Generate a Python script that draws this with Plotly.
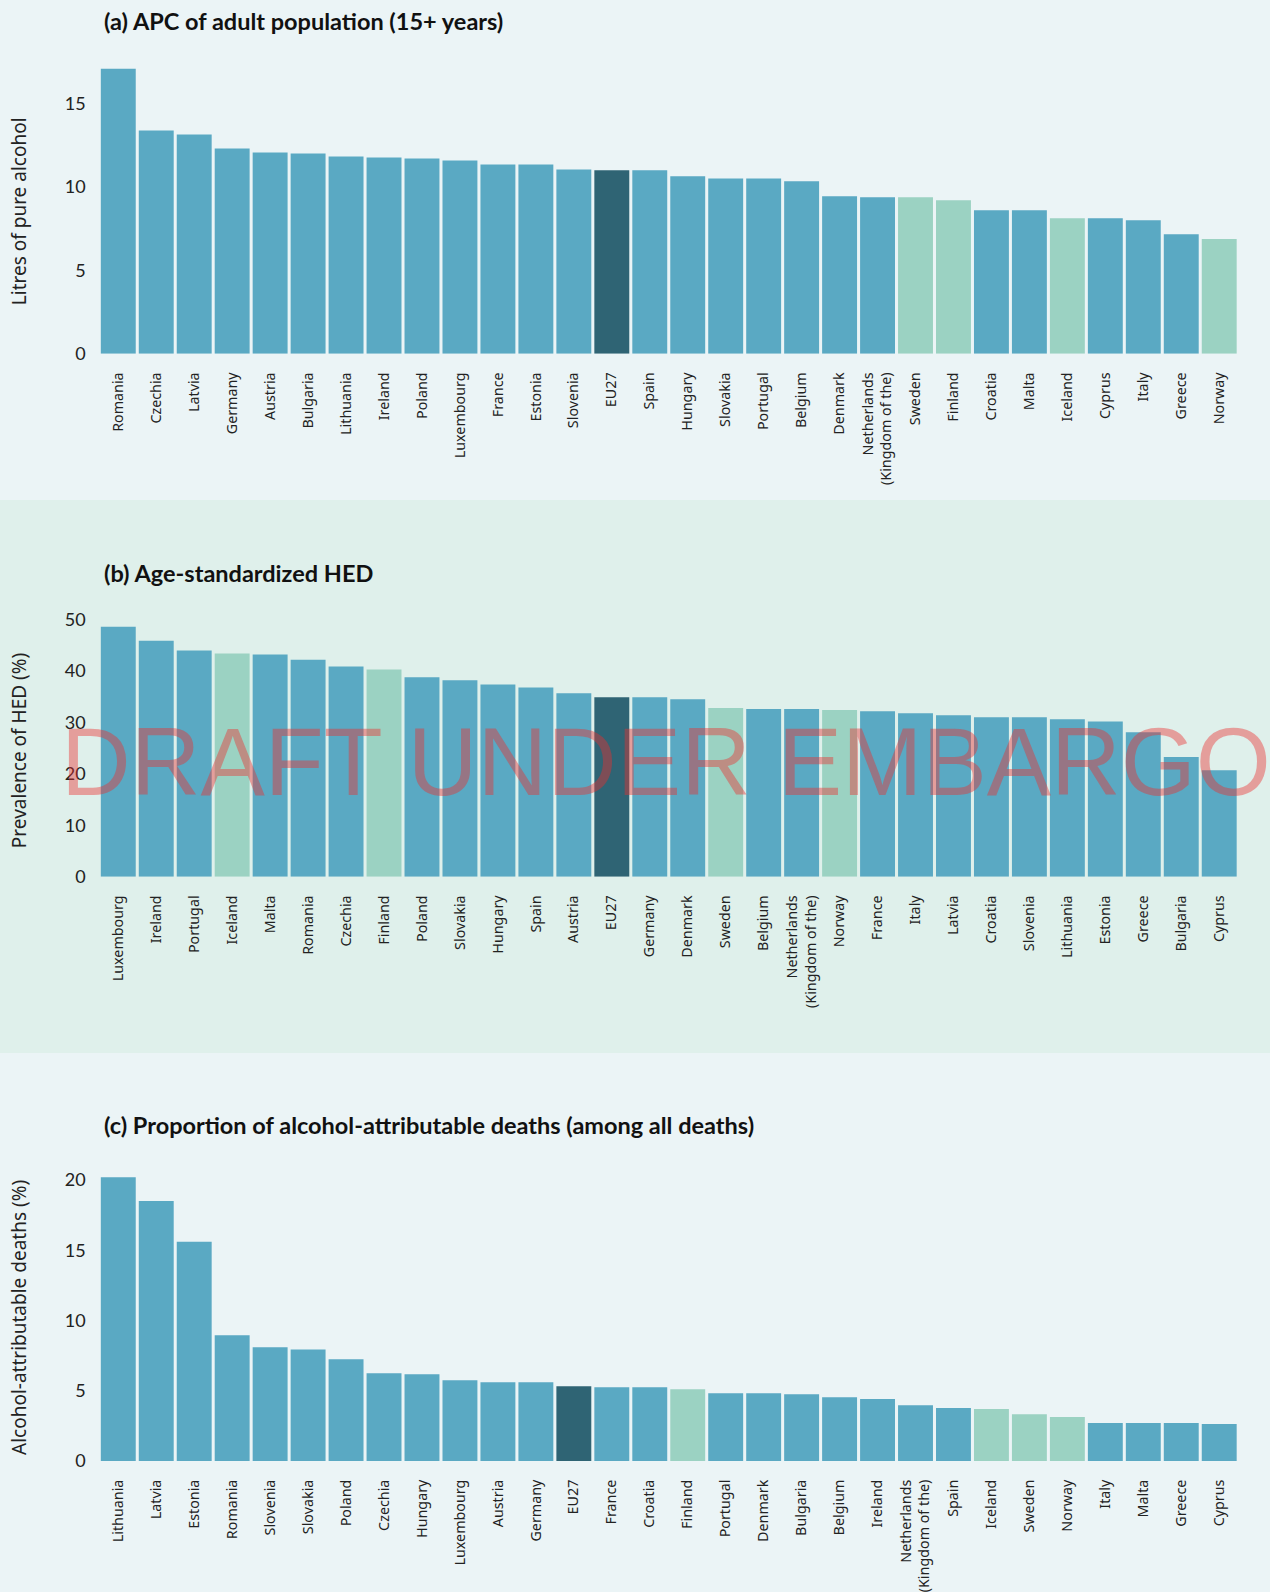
import plotly.graph_objects as go

# ---------------- data ----------------
cats_a = ["Romania", "Czechia", "Latvia", "Germany", "Austria", "Bulgaria", "Lithuania", "Ireland",
          "Poland", "Luxembourg", "France", "Estonia", "Slovenia", "EU27", "Spain", "Hungary",
          "Slovakia", "Portugal", "Belgium", "Denmark", "Netherlands (Kingdom of the)", "Sweden",
          "Finland", "Croatia", "Malta", "Iceland", "Cyprus", "Italy", "Greece", "Norway"]
vals_a = [17.07, 13.37, 13.13, 12.3, 12.06, 12.0, 11.82, 11.76, 11.7, 11.58, 11.34, 11.34, 11.04,
          10.99, 10.99, 10.63, 10.5, 10.5, 10.33, 9.43, 9.37, 9.37, 9.19, 8.6, 8.6, 8.12, 8.12,
          8.0, 7.16, 6.87]

cats_b = ["Luxembourg", "Ireland", "Portugal", "Iceland", "Malta", "Romania", "Czechia", "Finland",
          "Poland", "Slovakia", "Hungary", "Spain", "Austria", "EU27", "Germany", "Denmark",
          "Sweden", "Belgium", "Netherlands (Kingdom of the)", "Norway", "France", "Italy",
          "Latvia", "Croatia", "Slovenia", "Lithuania", "Estonia", "Greece", "Bulgaria", "Cyprus"]
vals_b = [48.6, 45.9, 44.0, 43.4, 43.2, 42.2, 40.9, 40.3, 38.8, 38.2, 37.4, 36.8, 35.7, 34.9,
          34.9, 34.5, 32.8, 32.6, 32.6, 32.4, 32.2, 31.8, 31.4, 31.0, 31.0, 30.6, 30.2, 28.1,
          23.3, 20.7]

cats_c = ["Lithuania", "Latvia", "Estonia", "Romania", "Slovenia", "Slovakia", "Poland", "Czechia",
          "Hungary", "Luxembourg", "Austria", "Germany", "EU27", "France", "Croatia", "Finland",
          "Portugal", "Denmark", "Bulgaria", "Belgium", "Ireland", "Netherlands (Kingdom of the)",
          "Spain", "Iceland", "Sweden", "Norway", "Italy", "Malta", "Greece", "Cyprus"]
vals_c = [20.2, 18.5, 15.6, 8.94, 8.09, 7.94, 7.23, 6.24, 6.17, 5.74, 5.6, 5.6, 5.32, 5.25,
          5.25, 5.1, 4.82, 4.82, 4.75, 4.54, 4.4, 3.97, 3.76, 3.69, 3.33, 3.12, 2.7, 2.7, 2.7, 2.62]

aggregate = ["EU27"]
nordic_group = ["Finland", "Iceland", "Norway", "Sweden"]

titles = ["(a) APC of adult population (15+ years)",
          "(b) Age-standardized HED",
          "(c) Proportion of alcohol-attributable deaths (among all deaths)"]
ytitles = ["Litres of pure alcohol", "Prevalence of HED (%)", "Alcohol-attributable deaths (%)"]
ytick_a = [0, 5, 10, 15]
ytick_b = [0, 10, 20, 30, 40, 50]
ytick_c = [0, 5, 10, 15, 20]

# ---------------- styling / layout ----------------
W, H = 1270, 1592
HS = 1577  # effective vertical scale used for paper positioning
C_MAIN = "#5AA9C3"
C_EU = "#2F6474"
C_NORD = "#9BD2C2"
BG_A = "#EBF4F6"
BG_B = "#DFF0EB"


def py(p):
    return 1 - p / HS


def colour(c):
    if c in aggregate:
        return C_EU
    if c in nordic_group:
        return C_NORD
    return C_MAIN


def label(c):
    return c.replace(" (Kingdom", "<br>(Kingdom")


X0, X1 = 99.3 / W, 1238.2 / W
# (zero pixel, range max, pixels per unit)
panels = [
    (cats_a, vals_a, ytick_a, 354, 18, 16.75),
    (cats_b, vals_b, ytick_b, 879, 52, 5.16),
    (cats_c, vals_c, ytick_c, 1465.5, 21, 14.1),
]
title_y = [20, 574.5, 1128.5]
ytitle_y = [211, 753, 1322]

fig = go.Figure()
layout = {}
for i, (cats, vals, yt, zero_px, rmax, ppu) in enumerate(panels):
    n = "" if i == 0 else str(i + 1)
    fig.add_trace(go.Bar(
        x=cats, y=vals,
        marker=dict(color=[colour(c) for c in cats], line=dict(width=0)),
        xaxis="x" + n, yaxis="y" + n, showlegend=False,
        hoverinfo="x+y",
    ))
    top_px = zero_px - rmax * ppu
    layout["xaxis" + n] = dict(
        domain=[X0, X1], anchor="y" + n, type="category",
        tickmode="array", tickvals=cats, ticktext=[label(c) for c in cats],
        tickangle=-90, showgrid=False, showline=False, zeroline=False,
        ticks="outside", ticklen=12, tickcolor="rgba(0,0,0,0)",
        tickfont=dict(family="Noto Sans", size=14.3, color="#222222"),
    )
    layout["yaxis" + n] = dict(
        domain=[py(zero_px), py(top_px)], anchor="x" + n, range=[0, rmax],
        tickmode="array", tickvals=yt, showgrid=False, showline=False, zeroline=False,
        ticks="outside", ticklen=9, tickcolor="rgba(0,0,0,0)",
        tickfont=dict(family="Lato", size=18, color="#222222"),
    )

annotations = []
for i in range(3):
    annotations.append(dict(
        text="<b>" + titles[i] + "</b>", xref="paper", yref="paper",
        x=102 / W, y=py(title_y[i]), xanchor="left", yanchor="middle",
        showarrow=False, font=dict(family="Lato", size=23.5, color="#111111"),
    ))
    annotations.append(dict(
        text=ytitles[i], xref="paper", yref="paper",
        x=19 / W, y=py(ytitle_y[i]), xanchor="center", yanchor="middle",
        textangle=-90, showarrow=False,
        font=dict(family="Noto Sans", size=19, color="#222222"),
    ))

annotations.append(dict(
    text="DRAFT UNDER EMBARGO", xref="paper", yref="paper",
    x=666 / W, y=py(763.5), xanchor="center", yanchor="middle", showarrow=False,
    font=dict(family="Liberation Sans", size=96.5, color="rgba(235,45,45,0.42)"),
))

fig.update_layout(
    width=W, height=H,
    margin=dict(l=0, r=0, t=0, b=0),
    paper_bgcolor=BG_A, plot_bgcolor="rgba(0,0,0,0)",
    bargap=0.08,
    annotations=annotations,
    shapes=[dict(type="rect", xref="paper", yref="paper", x0=0, x1=1,
                 y0=py(1056), y1=py(501), fillcolor=BG_B, line=dict(width=0), layer="below")],
    **layout,
)

fig.write_html("out.html")
